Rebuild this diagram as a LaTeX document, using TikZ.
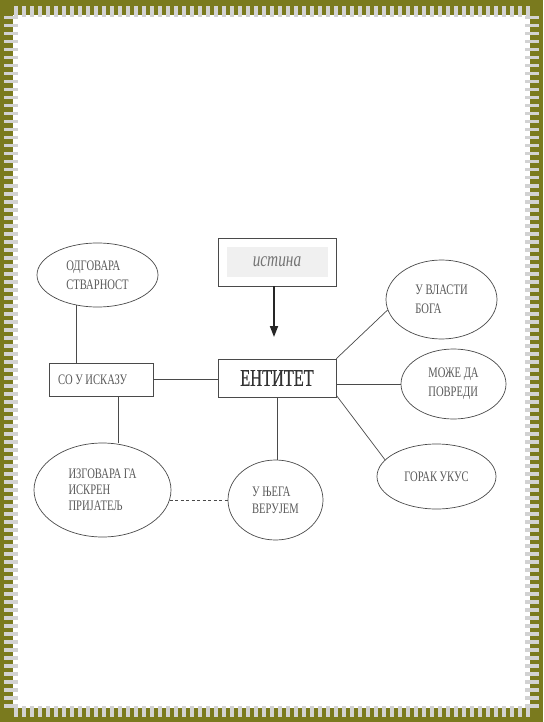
\documentclass[tikz,border=0pt]{standalone}
\usepackage{fontspec}
\newfontfamily\cnd[FakeStretch=0.73]{Liberation Serif}
\newfontfamily\cndent[FakeStretch=0.68,FakeBold=0.8]{Liberation Serif}
\usetikzlibrary{shapes.geometric,arrows.meta}
\definecolor{frameolive}{HTML}{7A7A1E}
\definecolor{tickgray}{HTML}{D2D2D2}
\definecolor{linegray}{HTML}{4A4A4A}
\definecolor{txtgray}{HTML}{5A5A5A}
\tikzset{
  ell/.style={ellipse, draw=linegray, line width=0.7pt, inner sep=0pt, align=left,
    text=txtgray, font=\cnd\fontsize{14.5}{19}\selectfont},
  rbox/.style={rectangle, draw=linegray, line width=0.7pt, inner sep=0pt},
  conn/.style={draw=linegray, line width=0.7pt},
  arrowline/.style={draw=black!85, line width=1.8pt, -{Triangle[length=11pt,width=8pt]}}
}
\begin{document}
\begin{tikzpicture}[x=1pt,y=-1pt]
\useasboundingbox (0,0) rectangle (543,722);
% frame
\fill[frameolive] (0,0) rectangle (543,722);
\fill[white] (13,15) rectangle (530,708);
\foreach \x in {14,22,...,526} {
  \fill[tickgray] (\x,6) rectangle ++(3.5,11);
  \fill[tickgray] (\x,706) rectangle ++(3.5,11);
}
\foreach \y in {16,24,...,704} {
  \fill[tickgray] (4,\y) rectangle ++(14,3.5);
  \fill[tickgray] (525,\y) rectangle ++(14,3.5);
}
% shading inside "istina" box
\fill[black!6] (227,247) rectangle (328,277);
% nodes
\node[rbox, minimum width=118pt, minimum height=48pt, text=black!55,
  font=\cnd\itshape\fontsize{21}{22}\selectfont] (ist) at (277,262) {истина};
\node[rbox, minimum width=118pt, minimum height=38pt, text=black!80,
  font=\cndent\fontsize{24}{26}\selectfont] (ent) at (277,378) {ЕНТИТЕТ};
\node[rbox, minimum height=33pt, inner xsep=9pt, text=txtgray,
  font=\cnd\fontsize{14.5}{16}\selectfont] (so) at (101,379.5) {\makebox[86pt][l]{СО У ИСКАЗУ}};
\node[ell, minimum width=121pt, minimum height=64pt] (odg) at (97.5,275) {ОДГОВАРА\\СТВАРНОСТ};
\node[ell, minimum width=111pt, minimum height=79pt] (vlast) at (441.5,299.5) {У ВЛАСТИ\\БОГА};
\node[ell, minimum width=105pt, minimum height=70pt] (mozhe) at (453.5,384) {МОЖЕ ДА\\ПОВРЕДИ};
\node[ell, minimum width=119pt, minimum height=65pt] (gorak) at (436.5,476.5) {ГОРАК УКУС};
\node[ell, minimum width=137pt, minimum height=94pt, font=\cnd\fontsize{14.5}{16}\selectfont]
  (izg) at (102.5,490) {ИЗГОВАРА ГА\\ИСКРЕН\\ПРИЈАТЕЉ};
\node[ell, minimum width=95pt, minimum height=80pt, font=\cnd\fontsize{14.5}{17}\selectfont]
  (veruj) at (275.5,500) {У ЊЕГА\\ВЕРУЈЕМ};
\coordinate (tip) at (274,337);
% connectors
\draw[arrowline] ([xshift=-3pt]ist.south) -- (tip);
\draw[conn] (odg.235.7) -- (odg.235.7 |- so.north);
\draw[conn] (so.east) -- (so.east -| ent.west);
\draw[conn] ([xshift=17pt]so.south) -- ([xshift=17pt]so.south |- izg.north);
\draw[conn] (ent.north east) -- (vlast.191);
\draw[conn] (ent.east |- mozhe.west) -- (mozhe.west);
\draw[conn] ([yshift=2pt]ent.south east) -- (gorak.162);
\draw[conn] (ent.south) -- (ent.south |- veruj.north);
\draw[conn, dash pattern=on 3pt off 2.5pt] (izg.-9) -- (izg.-9 -| veruj.west);
\end{tikzpicture}
\end{document}
